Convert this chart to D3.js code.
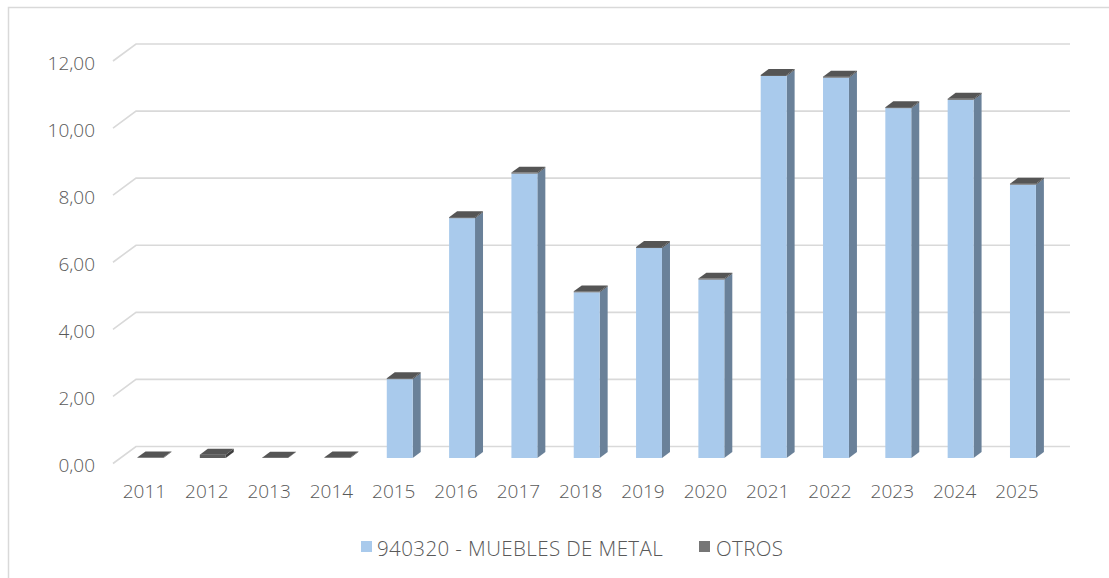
<!DOCTYPE html>
<html>
<head>
<meta charset="utf-8">
<script src="https://cdn.jsdelivr.net/npm/d3@7"></script>
<style>
  html, body { margin: 0; padding: 0; background: #ffffff; }
  svg { display: block; }
  text { font-family: "Open Sans", Lato, "DejaVu Sans", sans-serif; font-weight: 300; fill: #595959; }
</style>
</head>
<body>
<svg id="chart" width="1109" height="578"></svg>
<script>
// ---- data ----
const years = ["2011","2012","2013","2014","2015","2016","2017","2018","2019","2020","2021","2022","2023","2024","2025"];
const muebles = [0, 0, 0, 0, 2.35, 7.15, 8.48, 4.94, 6.26, 5.32, 11.39, 11.34, 10.43, 10.68, 8.15];
const otros   = [0.02, 0.10, 0.01, 0.02, 0.03, 0.03, 0.03, 0.03, 0.03, 0.03, 0.03, 0.03, 0.03, 0.03, 0.03];
const yTicks = [0, 2, 4, 6, 8, 10, 12];
const seriesNames = ["940320 - MUEBLES DE METAL", "OTROS"];
const seriesColors = ["#A9CAEC", "#767676"];

// ---- setup ----
const svg = d3.select("#chart");
const W = 1109, H = 578;

// chart border
svg.append("rect").attr("x", 8.5).attr("y", 7.5).attr("width", W + 10).attr("height", H + 10)
  .attr("fill", "#ffffff").attr("stroke", "#d9d9d9").attr("stroke-width", 1.5);

const y = d3.scaleLinear().domain([0, 12]).range([463.5, 61]);
const x = d3.scaleBand().domain(years).range([119.3, 1054.1]).paddingInner(0.584).paddingOuter(0.292);

// floor depth (oblique projection)
const FDX = 23, FDY = -17;
const gridLeft = 113, gridRight = 1070;

// gridlines (front-left diagonal + back wall line)
svg.append("g").selectAll("path").data(yTicks).join("path")
  .attr("d", t => `M${gridLeft},${y(t)} L${gridLeft + FDX},${y(t) + FDY} L${gridRight},${y(t) + FDY}`)
  .attr("fill", "none").attr("stroke", "#d9d9d9").attr("stroke-width", 1.6);

// y axis labels
const fmt = d3.formatLocale({decimal: ",", thousands: ".", grouping: [3], currency: ["", ""]}).format(".2f");
const yAxis = svg.append("g").attr("transform", "translate(95,2)")
  .call(d3.axisLeft(y).tickValues(yTicks).tickFormat(fmt).tickSize(0).tickPadding(0));
yAxis.select(".domain").remove();
yAxis.selectAll("text").attr("font-size", 19).attr("fill", "#595959").attr("font-family", null);

// bars
const BDX = 8, BDY = -5.9;       // bar depth
const baseShiftY = -5.5;          // bar front sits slightly back on the floor
const bw = x.bandwidth();

const barColors = {
  m: {front: "#A9CAEC", side: "#6A8199", top: "#8FB0D2"},
  o: {front: "#5E5E5E", side: "#3E3E3E", top: "#555555"}
};

const barG = svg.append("g");
years.forEach((yr, i) => {
  const x0 = x(yr);
  const segs = [];
  if (muebles[i] > 0) segs.push({from: 0, to: muebles[i], c: barColors.m});
  if (otros[i] > 0) segs.push({from: muebles[i], to: muebles[i] + otros[i], c: barColors.o});
  segs.forEach((s, k) => {
    const yb = y(s.from) + baseShiftY, yt = y(s.to) + baseShiftY;
    barG.append("path")
      .attr("d", `M${x0 + bw},${yb} L${x0 + bw + BDX},${yb + BDY} L${x0 + bw + BDX},${yt + BDY} L${x0 + bw},${yt} Z`)
      .attr("fill", s.c.side);
    barG.append("rect").attr("x", x0).attr("y", yt).attr("width", bw).attr("height", Math.max(0, yb - yt))
      .attr("fill", s.c.front);
    if (k === segs.length - 1) {
      barG.append("path")
        .attr("d", `M${x0},${yt} L${x0 + BDX},${yt + BDY} L${x0 + bw + BDX},${yt + BDY} L${x0 + bw},${yt} Z`)
        .attr("fill", s.c.top);
    }
  });
});

// x axis labels
const xAxis = svg.append("g").attr("transform", "translate(-6,484)")
  .call(d3.axisBottom(x).tickSize(0).tickPadding(0));
xAxis.select(".domain").remove();
xAxis.selectAll("text").attr("font-size", 19).attr("fill", "#595959").attr("dy", "0.71em")
  .attr("font-family", null);

// legend
const legendItems = [
  {name: seriesNames[0], color: seriesColors[0], sx: 361, tx: 377},
  {name: seriesNames[1], color: seriesColors[1], sx: 699, tx: 716}
];
const lg = svg.append("g");
legendItems.forEach(d => {
  lg.append("rect").attr("x", d.sx).attr("y", 541).attr("width", 11).attr("height", 11).attr("fill", d.color);
  lg.append("text").attr("x", d.tx).attr("y", 556).attr("font-size", 20.5)
    .attr("letter-spacing", 0.4).text(d.name);
});
</script>
</body>
</html>
